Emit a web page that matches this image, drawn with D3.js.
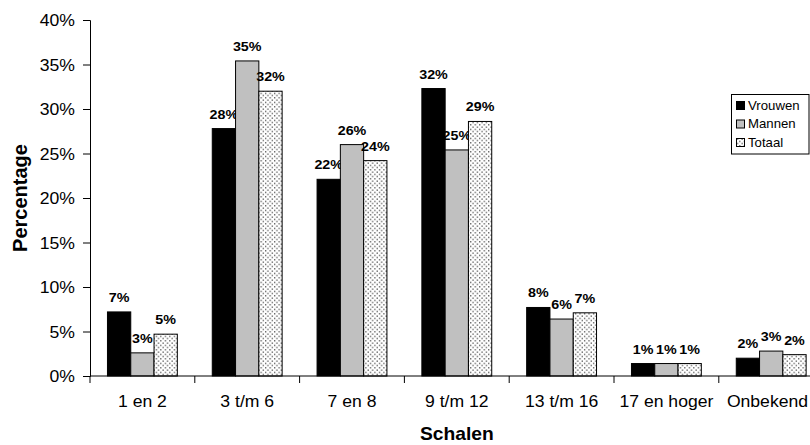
<!DOCTYPE html>
<html>
<head>
<meta charset="utf-8">
<script src="https://cdn.jsdelivr.net/npm/d3@7"></script>
<style>
  body { margin: 0; background: #fff; }
  svg { font-family: 'Liberation Sans', Arial, sans-serif; }
</style>
</head>
<body>
<div id="chart"></div>
<script>
// data
var categories = ['1 en 2', '3 t/m 6', '7 en 8', '9 t/m 12', '13 t/m 16', '17 en hoger', 'Onbekend']
var series = ['Vrouwen', 'Mannen', 'Totaal']
var vrouwen = [7.2, 27.8, 22.1, 32.3, 7.7, 1.4, 2.0]
var mannen = [2.6, 35.4, 26.0, 25.4, 6.4, 1.4, 2.8]
var totaal = [4.7, 32.0, 24.2, 28.6, 7.1, 1.4, 2.4]
var yTicks = [0, 5, 10, 15, 20, 25, 30, 35, 40]

var values = { Vrouwen: vrouwen, Mannen: mannen, Totaal: totaal }

var width = 810
var height = 445
var plot = { left: 90, top: 20, bottom: 376, catWidth: 104.8 }
var stretch = 1.1 // the original picture is a little wider than tall

var svg = d3
  .select('#chart')
  .append('svg')
  .attr('width', width)
  .attr('height', height)

// helper: put a text at x,y and stretch it sideways
function place (x, y) {
  return 'translate(' + x + ',' + y + ') scale(' + stretch + ',1)'
}

// dotted pattern for Totaal
var defs = svg.append('defs')
var pat = defs
  .append('pattern')
  .attr('id', 'dots')
  .attr('patternUnits', 'userSpaceOnUse')
  .attr('width', 4.5)
  .attr('height', 4.5)
pat.append('rect').attr('width', 4.5).attr('height', 4.5).attr('fill', '#fff')
pat.append('rect').attr('x', 0.5).attr('y', 0.5).attr('width', 1.2).attr('height', 1.2).attr('fill', '#333')
pat.append('rect').attr('x', 2.75).attr('y', 2.75).attr('width', 1.2).attr('height', 1.2).attr('fill', '#333')

var fills = { Vrouwen: '#000', Mannen: '#c0c0c0', Totaal: 'url(#dots)' }

// scales
var x = d3
  .scaleBand()
  .domain(categories)
  .range([plot.left, plot.left + plot.catWidth * categories.length])
  .padding(0)

var xSub = d3
  .scaleBand()
  .domain(series)
  .range([0, x.bandwidth()])
  .paddingInner(0)
  .paddingOuter(0.75)

var y = d3.scaleLinear().domain([0, 40]).range([plot.bottom, plot.top])

// y axis
var yAxis = svg
  .append('g')
  .attr('transform', 'translate(' + plot.left + ',0)')
  .call(
    d3.axisLeft(y)
      .tickValues(yTicks)
      .tickFormat(d => d + '%')
      .tickSizeOuter(0)
      .tickSize(7)
  )
yAxis.select('.domain').attr('stroke', '#000')
yAxis.selectAll('.tick line').attr('stroke', '#000')
yAxis
  .selectAll('text')
  .attr('x', null)
  .attr('dy', null)
  .attr('transform', place(-15, 5.5))
  .attr('font-size', 16)
  .attr('fill', '#000')
  .attr('font-family', 'Liberation Sans, Arial, sans-serif')

// bars
var groups = svg
  .selectAll('.group')
  .data(categories)
  .enter()
  .append('g')
  .attr('class', 'group')
  .attr('transform', d => 'translate(' + x(d) + ',0)')

series.forEach(s => {
  groups
    .append('rect')
    .attr('x', xSub(s))
    .attr('y', (d, i) => y(values[s][i]))
    .attr('width', xSub.bandwidth())
    .attr('height', (d, i) => y(0) - y(values[s][i]))
    .attr('fill', fills[s])
    .attr('stroke', '#000')
    .attr('stroke-width', 1)

  groups
    .append('text')
    .attr('transform', (d, i) => place(xSub(s) + xSub.bandwidth() / 2, y(values[s][i]) - 10))
    .attr('text-anchor', 'middle')
    .attr('font-size', 13)
    .attr('font-weight', 'bold')
    .text((d, i) => Math.round(values[s][i]) + '%')
})

// x axis
var xAxis = svg.append('g')
xAxis
  .append('line')
  .attr('x1', plot.left)
  .attr('x2', x.range()[1])
  .attr('y1', plot.bottom)
  .attr('y2', plot.bottom)
  .attr('stroke', '#000')
xAxis
  .selectAll('.xtick')
  .data(categories.concat(['end']))
  .enter()
  .append('line')
  .attr('x1', (d, i) => plot.left + i * x.step())
  .attr('x2', (d, i) => plot.left + i * x.step())
  .attr('y1', plot.bottom)
  .attr('y2', plot.bottom + 7)
  .attr('stroke', '#000')
xAxis
  .selectAll('.xlabel')
  .data(categories)
  .enter()
  .append('text')
  .attr('transform', d => place(x(d) + x.bandwidth() / 2, 407))
  .attr('text-anchor', 'middle')
  .attr('font-size', 16)
  .text(d => d)
  .each(function () {
    // keep the last label inside the picture, like the original does
    var box = this.getBBox()
    var c = d3.select(this).datum()
    var right = x(c) + x.bandwidth() / 2 + box.width * stretch / 2
    if (right > width - 2) {
      d3.select(this)
        .attr('text-anchor', 'end')
        .attr('transform', place(width - 2, 407))
    }
  })

// axis titles
svg
  .append('text')
  .attr('transform', place((x.range()[0] + x.range()[1]) / 2, 440))
  .attr('text-anchor', 'middle')
  .attr('font-size', 17.5)
  .attr('font-weight', 'bold')
  .text('Schalen')

svg
  .append('text')
  .attr('transform', 'translate(27,' + (plot.top + plot.bottom) / 2 + ') rotate(-90)')
  .attr('text-anchor', 'middle')
  .attr('font-size', 20)
  .attr('font-weight', 'bold')
  .text('Percentage')

// legend
var legend = svg.append('g').attr('transform', 'translate(731.5,94.5)')
legend
  .append('rect')
  .attr('width', 77.5)
  .attr('height', 59.5)
  .attr('fill', '#fff')
  .attr('stroke', '#000')
series.forEach((s, i) => {
  var row = legend.append('g').attr('transform', 'translate(5,' + (11 + i * 18.5) + ')')
  row
    .append('rect')
    .attr('x', 0)
    .attr('y', -4)
    .attr('width', 8)
    .attr('height', 8)
    .attr('fill', fills[s])
    .attr('stroke', '#000')
  row
    .append('text')
    .attr('transform', place(11.5, 4.3))
    .attr('font-size', 12)
    .text(s)
})
</script>
</body>
</html>
